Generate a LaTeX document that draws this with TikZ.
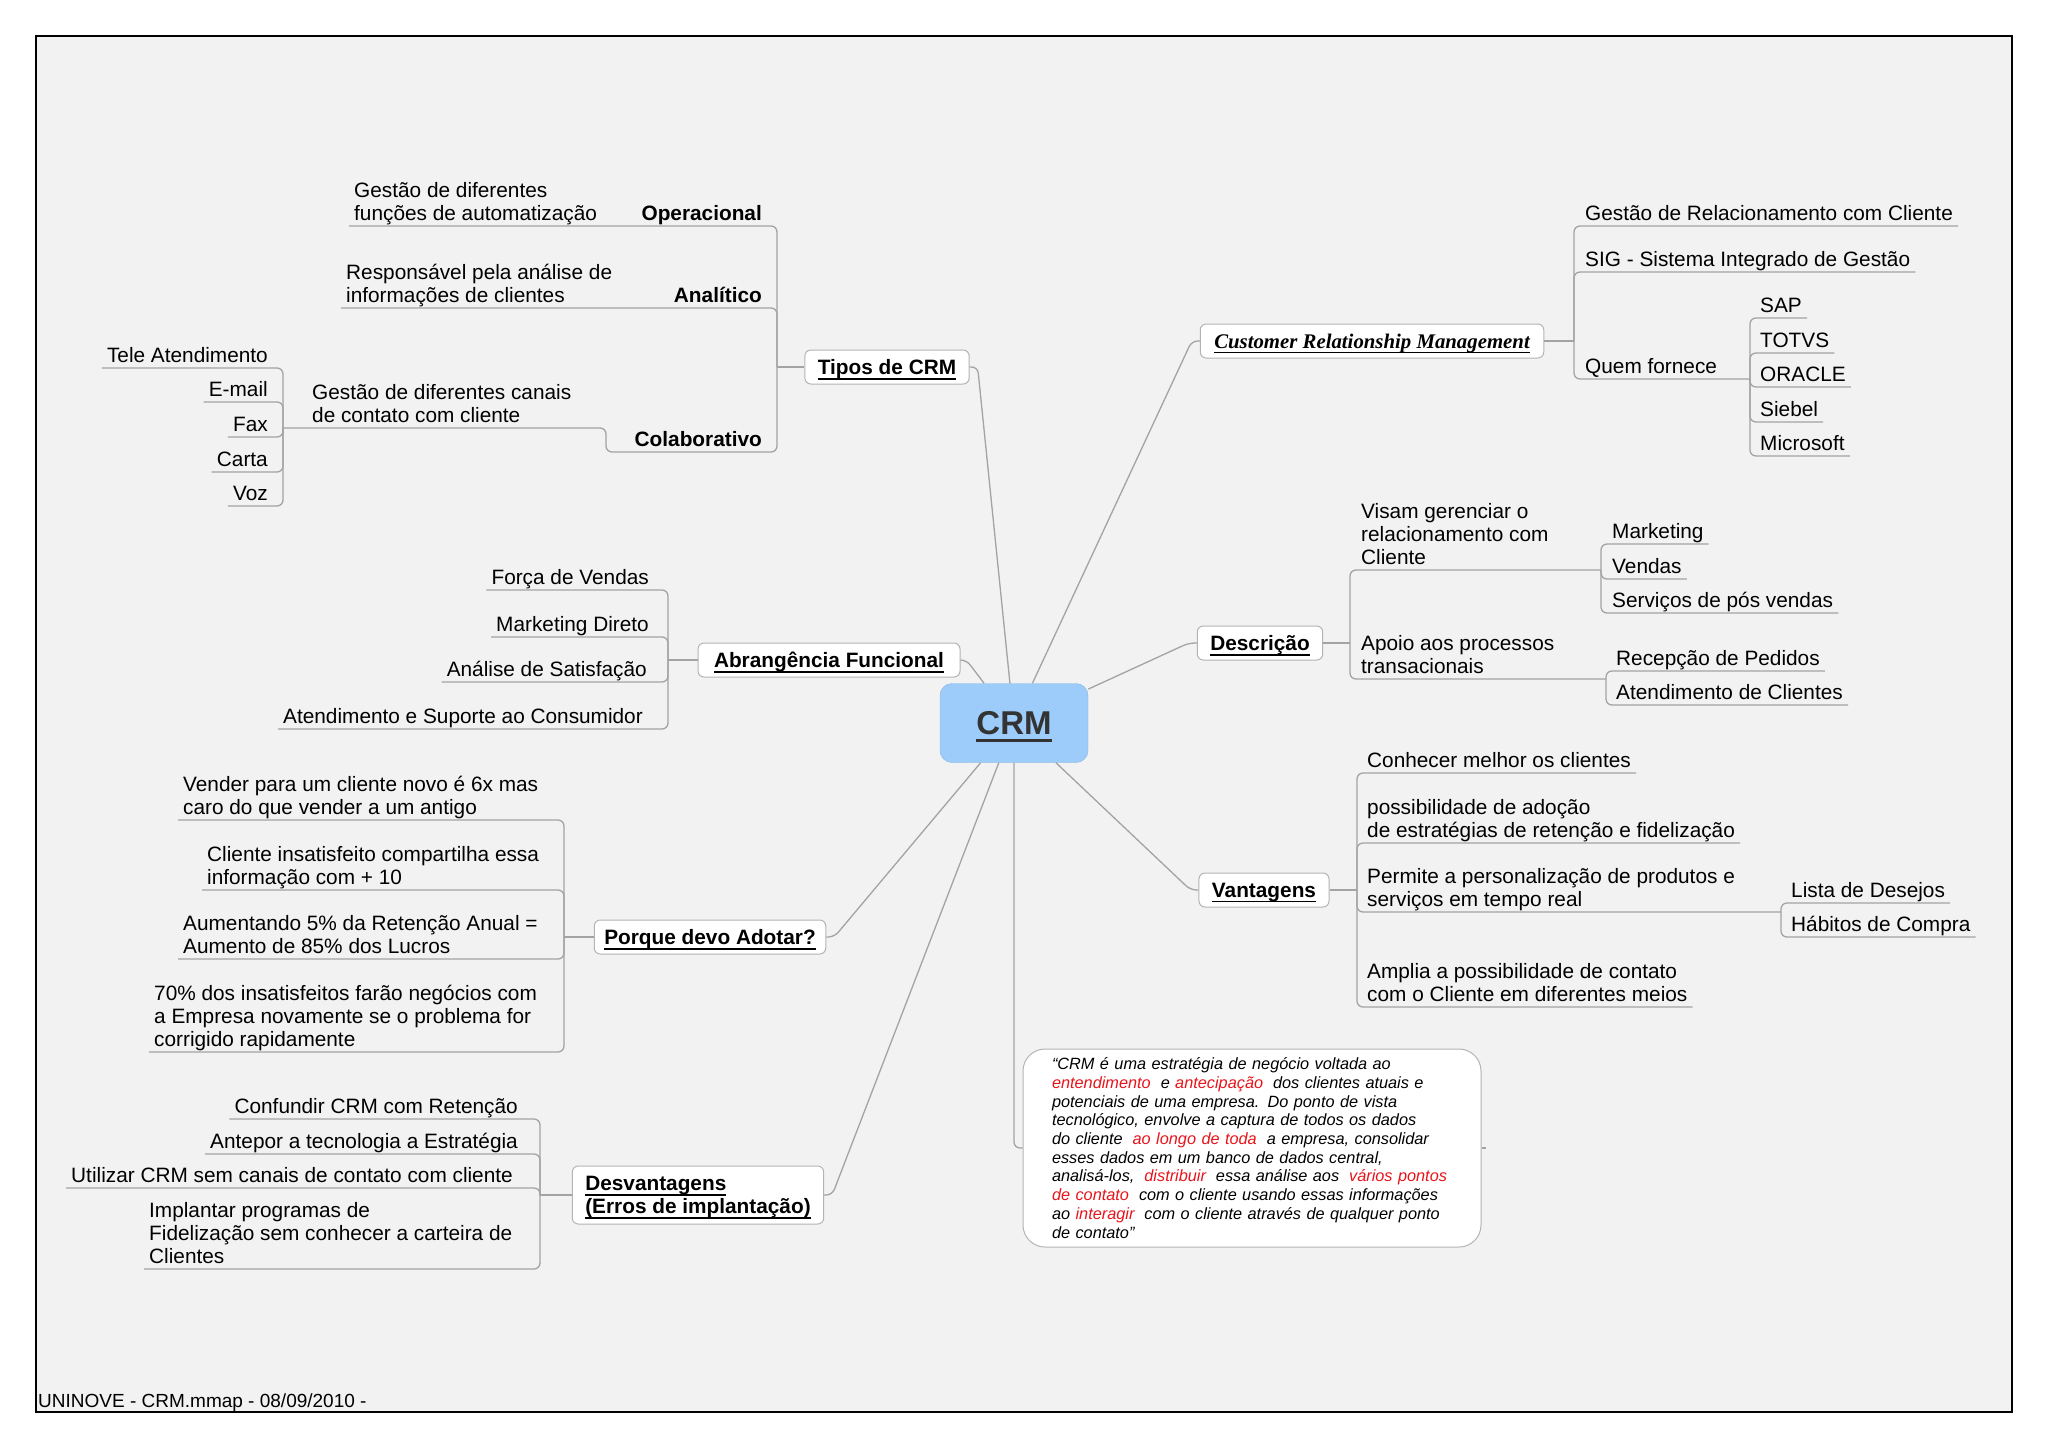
\documentclass[tikz,border=0pt]{standalone}
\usepackage{fontspec}
\setmainfont{Liberation Sans}
\newfontfamily\serifbi{Liberation Serif}
\usetikzlibrary{positioning,calc}
\definecolor{LinkGray}{HTML}{A3A3A3}
\definecolor{BoxGray}{HTML}{B4B4B4}
\definecolor{PaperGray}{HTML}{F2F2F2}
\definecolor{CoreBlue}{HTML}{9DCBFA}
\definecolor{CoreEdge}{HTML}{86B4E3}
\definecolor{CoreText}{HTML}{333333}
\definecolor{NoteRed}{HTML}{E8141B}
\newlength{\ulgap}\setlength{\ulgap}{3.5pt}
\newlength{\ulth}\setlength{\ulth}{1.5pt}
\newsavebox{\ulbox}
\newcommand{\uln}[1]{\sbox{\ulbox}{#1}\rlap{\rule[-\dimexpr\ulgap+\ulth\relax]{\wd\ulbox}{\ulth}}\usebox{\ulbox}}
\newcommand{\leaffont}{\fontsize{20.8}{23}\selectfont}
\newcommand{\notefont}{\fontsize{16.3}{18.7}\selectfont\itshape}
\newcommand{\redw}[1]{\textcolor{NoteRed}{#1}}

\begin{document}
\begin{tikzpicture}[x=1pt, y=-1pt,
  link/.style={draw=LinkGray, line width=1.3pt, rounded corners=6pt},
  topic/.style={draw=BoxGray, line width=1pt, fill=white, rounded corners=6pt, inner xsep=13pt, minimum height=34pt, text depth=0pt, font=\leaffont\bfseries},
  leaf/.style={inner xsep=5pt, inner ysep=0pt, text depth=5pt, font=\leaffont, align=left},
  leafl/.style={leaf, anchor=south west},
  leafr/.style={leaf, anchor=south east}]
  \useasboundingbox (0,0) rectangle (2048,1448);
  \draw[fill=PaperGray, line width=2.4pt] (36,36) rectangle (2012,1412);
  \node[anchor=base west, inner sep=0pt, font=\fontsize{19}{22}\selectfont] (foot) at (38,1407) {UNINOVE - CRM.mmap - 08/09/2010 -};

  \node[draw=CoreEdge, fill=CoreBlue, rounded corners=12pt, minimum width=148pt, minimum height=79pt, text height=23.6pt, text depth=0pt, text=CoreText, font=\fontsize{33}{36}\selectfont\bfseries] (crm) at (1014,723) {\setlength{\ulth}{3pt}\setlength{\ulgap}{4pt}\uln{CRM}};

  \node[topic] (tipos) at (887,367) {\uln{Tipos de CRM}};
  \node[topic, inner xsep=14pt] (cust) at (1372,341) {\serifbi\itshape\uln{Customer Relationship Management}};
  \node[topic, inner xsep=16pt] (abr) at (829,660) {\uln{Abrangência Funcional}};
  \node[topic] (desc) at (1260,643) {\uln{Descrição}};
  \node[topic] (vant) at (1264,890) {\uln{Vantagens}};
  \node[topic, inner xsep=10pt] (porq) at (710,937) {\uln{Porque devo Adotar?}};
  \node[topic, align=left, minimum height=58pt] (desv) at (698,1195) {\uln{Desvantagens}\\\uln{(Erros de implantação)}};
  \node[draw=BoxGray, line width=1pt, fill=white, rounded corners=22pt, text width=400pt, inner xsep=29pt, minimum height=198pt, align=left, font=\notefont] (note) at (1252,1148) {
    “CRM é uma estratégia de negócio voltada ao\\
    \redw{entendimento}\; e \redw{antecipação}\; dos clientes atuais e\\
    potenciais de uma empresa. Do ponto de vista\\
    tecnológico, envolve a captura de todos os dados\\
    do cliente\; \redw{ao longo de toda}\; a empresa, consolidar\\
    esses dados em um banco de dados central,\\
    analisá-los,\; \redw{distribuir}\; essa análise aos\; \redw{vários pontos}\\
    \redw{de contato}\; com o cliente usando essas informações\\
    ao \redw{interagir}\; com o cliente através de qualquer ponto\\
    de contato”};

  \draw[link] (tipos.east) -- ++(8,0) -- (crm);
  \draw[link] (abr.east) -- ++(6,0) -- (crm);
  \draw[link] (porq.east) -- ++(8,0) -- (crm);
  \draw[link] (desv.east) -- ++(8,0) -- (crm);
  \draw[link] (cust.west) -- ++(-8,0) -- (crm);
  \draw[link] (desc.west) -- ++(-8,0) -- (crm);
  \draw[link] (vant.west) -- ++(-8,0) -- (crm);
  \draw[link] (crm.south) -- (crm.south |- note.west) -- (note.west);
  \draw[link] (note.east) -- ++(4,0);

  \coordinate (tv) at (777,367);
  \coordinate (colv) at (606,452);
  \coordinate (canv) at (283,428);
  \node[leafr, font=\leaffont\bfseries] (oper) at (767,226) {Operacional};
  \node[leafl] (operdesc) at (349,226) {Gestão de diferentes\\funções de automatização};
  \node[leafr, font=\leaffont\bfseries] (anal) at (767,308) {Analítico};
  \node[leafl] (analdesc) at (341,308) {Responsável pela análise de\\informações de clientes};
  \node[leafr, font=\leaffont\bfseries] (colab) at (767,452) {Colaborativo};
  \node[leafl] (canais) at (307,428) {Gestão de diferentes canais\\de contato com cliente};
  \node[leafr] (tele) at (273,368) {Tele Atendimento};
  \node[leafr] (email) at (273,402) {E-mail};
  \node[leafr] (fax) at (273,437) {Fax};
  \node[leafr] (carta) at (273,472) {Carta};
  \node[leafr] (voz) at (273,506) {Voz};
  \draw[link] (tv) -- (tipos.west);
  \draw[link] (operdesc.south west) -- (oper.south -| tv) -- (tv);
  \draw[link] (analdesc.south west) -- (anal.south -| tv) -- (tv);
  \draw[link] (canv) -- (canais.south -| colv) -- (colv) -- (colab.south -| tv) -- (tv);
  \foreach \n in {tele,email,fax,carta,voz}
    \draw[link] (\n.south west) -- (\n.south -| canv) -- (canv);

  \coordinate (abv) at (668,660);
  \node[leafr] (forca) at (654,590) {Força de Vendas};
  \node[leafr] (mdireto) at (654,637) {Marketing Direto};
  \node[leafr] (satisf) at (652,682) {Análise de Satisfação};
  \node[leafr] (suporte) at (648,729) {Atendimento e Suporte ao Consumidor};
  \draw[link] (abv) -- (abr.west);
  \foreach \n in {forca,mdireto,satisf,suporte}
    \draw[link] (\n.south west) -- (\n.south -| abv) -- (abv);

  \coordinate (pv) at (564,937);
  \node[leafl] (vender) at (178,820) {Vender para um cliente novo é 6x mas\\caro do que vender a um antigo};
  \node[leafl] (insat) at (202,890) {Cliente insatisfeito compartilha essa\\informação com + 10};
  \node[leafl] (aument) at (178,959) {Aumentando 5\% da Retenção Anual =\\Aumento de 85\% dos Lucros};
  \node[leafl] (setenta) at (149,1052) {70\% dos insatisfeitos farão negócios com\\a Empresa novamente se o problema for\\corrigido rapidamente};
  \draw[link] (pv) -- (porq.west);
  \foreach \n in {vender,insat,aument,setenta}
    \draw[link] (\n.south west) -- (\n.south -| pv) -- (pv);

  \coordinate (dsv) at (540,1195);
  \node[leafr] (confund) at (523,1119) {Confundir CRM com Retenção};
  \node[leafr] (antepor) at (523,1154) {Antepor a tecnologia a Estratégia};
  \node[leafr] (utiliz) at (518,1188) {Utilizar CRM sem canais de contato com cliente};
  \node[leafl] (implant) at (144,1269) {Implantar programas de\\Fidelização sem conhecer a carteira de\\Clientes};
  \draw[link] (dsv) -- (desv.west);
  \foreach \n in {confund,antepor,utiliz,implant}
    \draw[link] (\n.south west) -- (\n.south -| dsv) -- (dsv);

  \coordinate (cv) at (1574,341);
  \coordinate (qv) at (1750,379);
  \node[leafl] (grc) at (1580,226) {Gestão de Relacionamento com Cliente};
  \node[leafl] (sig) at (1580,272) {SIG - Sistema Integrado de Gestão};
  \node[leafl] (quem) at (1580,379) {Quem fornece};
  \node[leafl] (sap) at (1755,318) {SAP};
  \node[leafl] (totvs) at (1755,353) {TOTVS};
  \node[leafl] (oracle) at (1755,387) {ORACLE};
  \node[leafl] (siebel) at (1755,422) {Siebel};
  \node[leafl] (msoft) at (1755,456) {Microsoft};
  \draw[link] (cust.east) -- (cv);
  \draw[link] (grc.south east) -- (grc.south -| cv) -- (cv);
  \draw[link] (sig.south east) -- (sig.south -| cv) -- (cv);
  \draw[link] (qv) -- (quem.south -| cv) -- (cv);
  \foreach \n in {sap,totvs,oracle,siebel,msoft}
    \draw[link] (\n.south east) -- (\n.south -| qv) -- (qv);

  \coordinate (dv) at (1350,643);
  \coordinate (mv) at (1601,570);
  \coordinate (rv) at (1606,679);
  \node[leafl] (visam) at (1356,570) {Visam gerenciar o\\relacionamento com\\Cliente};
  \node[leafl] (apoio) at (1356,679) {Apoio aos processos\\transacionais};
  \node[leafl] (mkt) at (1607,544) {Marketing};
  \node[leafl] (vendas) at (1607,579) {Vendas};
  \node[leafl] (posv) at (1607,613) {Serviços de pós vendas};
  \node[leafl] (recep) at (1611,671) {Recepção de Pedidos};
  \node[leafl] (atcli) at (1611,705) {Atendimento de Clientes};
  \draw[link] (desc.east) -- (dv);
  \draw[link] (mv) -- (visam.south -| dv) -- (dv);
  \draw[link] (rv) -- (apoio.south -| dv) -- (dv);
  \foreach \n in {mkt,vendas,posv}
    \draw[link] (\n.south east) -- (\n.south -| mv) -- (mv);
  \foreach \n in {recep,atcli}
    \draw[link] (\n.south east) -- (\n.south -| rv) -- (rv);

  \coordinate (vv) at (1357,890);
  \coordinate (lv) at (1781,912);
  \node[leafl] (conhec) at (1362,773) {Conhecer melhor os clientes};
  \node[leafl] (possib) at (1362,843) {possibilidade de adoção\\de estratégias de retenção e fidelização};
  \node[leafl] (permite) at (1362,912) {Permite a personalização de produtos e\\serviços em tempo real};
  \node[leafl] (amplia) at (1362,1007) {Amplia a possibilidade de contato\\com o Cliente em diferentes meios};
  \node[leafl] (lista) at (1786,903) {Lista de Desejos};
  \node[leafl] (habito) at (1786,937) {Hábitos de Compra};
  \draw[link] (vant.east) -- (vv);
  \draw[link] (lv) -- (permite.south -| vv) -- (vv);
  \foreach \n in {conhec,possib,amplia}
    \draw[link] (\n.south east) -- (\n.south -| vv) -- (vv);
  \foreach \n in {lista,habito}
    \draw[link] (\n.south east) -- (\n.south -| lv) -- (lv);
\end{tikzpicture}
\end{document}
